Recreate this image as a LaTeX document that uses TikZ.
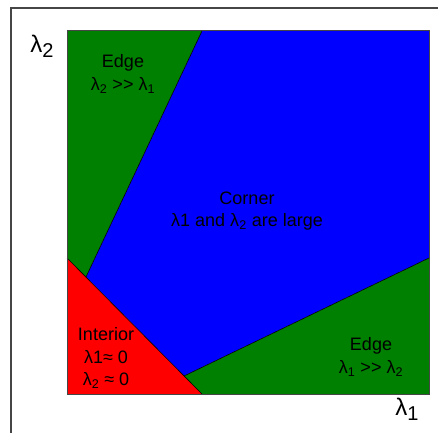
\documentclass[tikz,border=0pt]{standalone}
\usepackage{fontspec}
\setmainfont{Liberation Sans}
\usetikzlibrary{positioning}
\definecolor{mygreen}{RGB}{0,128,0}
\definecolor{myblue}{RGB}{0,0,255}
\definecolor{myred}{RGB}{255,0,0}
\definecolor{myframe}{RGB}{70,70,70}
\newcommand{\lam}[1]{λ\textsubscript{#1}}
\newcommand{\much}{>\kern0.3pt>}
\tikzset{
    region/.style={
        draw=black,
        line width=0.6pt,
        line join=miter
    },
    lbl/.style={
        align=center,
        inner sep=0pt,
        font=\fontsize{18}{22.5}\selectfont
    },
    axis/.style={
        inner sep=0pt,
        font=\fontsize{24}{26}\selectfont
    }
}

\begin{document}
\begin{tikzpicture}[x=1pt,y=-1pt]
\useasboundingbox (0,0) rectangle (438,433);
% outer frame
\draw[myframe,line width=1.2pt] (11,433) -- (11,8) -- (438,8);
% corners of the plot
\coordinate (tl) at (67,31);
\coordinate (tm) at (202,31);
\coordinate (tr) at (429,31);
\coordinate (rm) at (429,258);
\coordinate (br) at (429,394);
\coordinate (bm) at (202,394);
\coordinate (bl) at (67,394);
\coordinate (lm) at (67,258);
\coordinate (p) at (86,277);
\coordinate (q) at (184,376);
% regions
\fill[mygreen] (tl) -- (tm) -- (p) -- (lm) -- cycle;
\fill[myblue] (tm) -- (tr) -- (rm) -- (q) -- (p) -- cycle;
\fill[myred] (lm) -- (bm) -- (bl) -- cycle;
\fill[mygreen] (q) -- (rm) -- (br) -- (bm) -- cycle;
\draw[region] (tm) -- (p);
\draw[region] (lm) -- (bm);
\draw[region] (q) -- (rm);
\draw[myframe,line width=1pt] (tl) rectangle (br);
% labels
\node[lbl] (edgetop) at (123,74) {Edge\\\lam{2} \much{} \lam{1}};
\node[lbl] (corner) at (247,211) {Corner\\λ1 and \lam{2} are large};
\node[lbl] (interior) at (106,358) {Interior\\λ1≈ 0\\\lam{2} ≈ 0};
\node[lbl] (edgebot) at (371,357) {Edge\\\lam{1} \much{} \lam{2}};
\node[axis] (ylab) at (42,46) {λ\raisebox{-0.22em}{\fontsize{20}{20}\selectfont 2}};
\node[axis] (xlab) at (407,409) {λ\raisebox{-0.22em}{\fontsize{20}{20}\selectfont 1}};
\end{tikzpicture}
\end{document}
